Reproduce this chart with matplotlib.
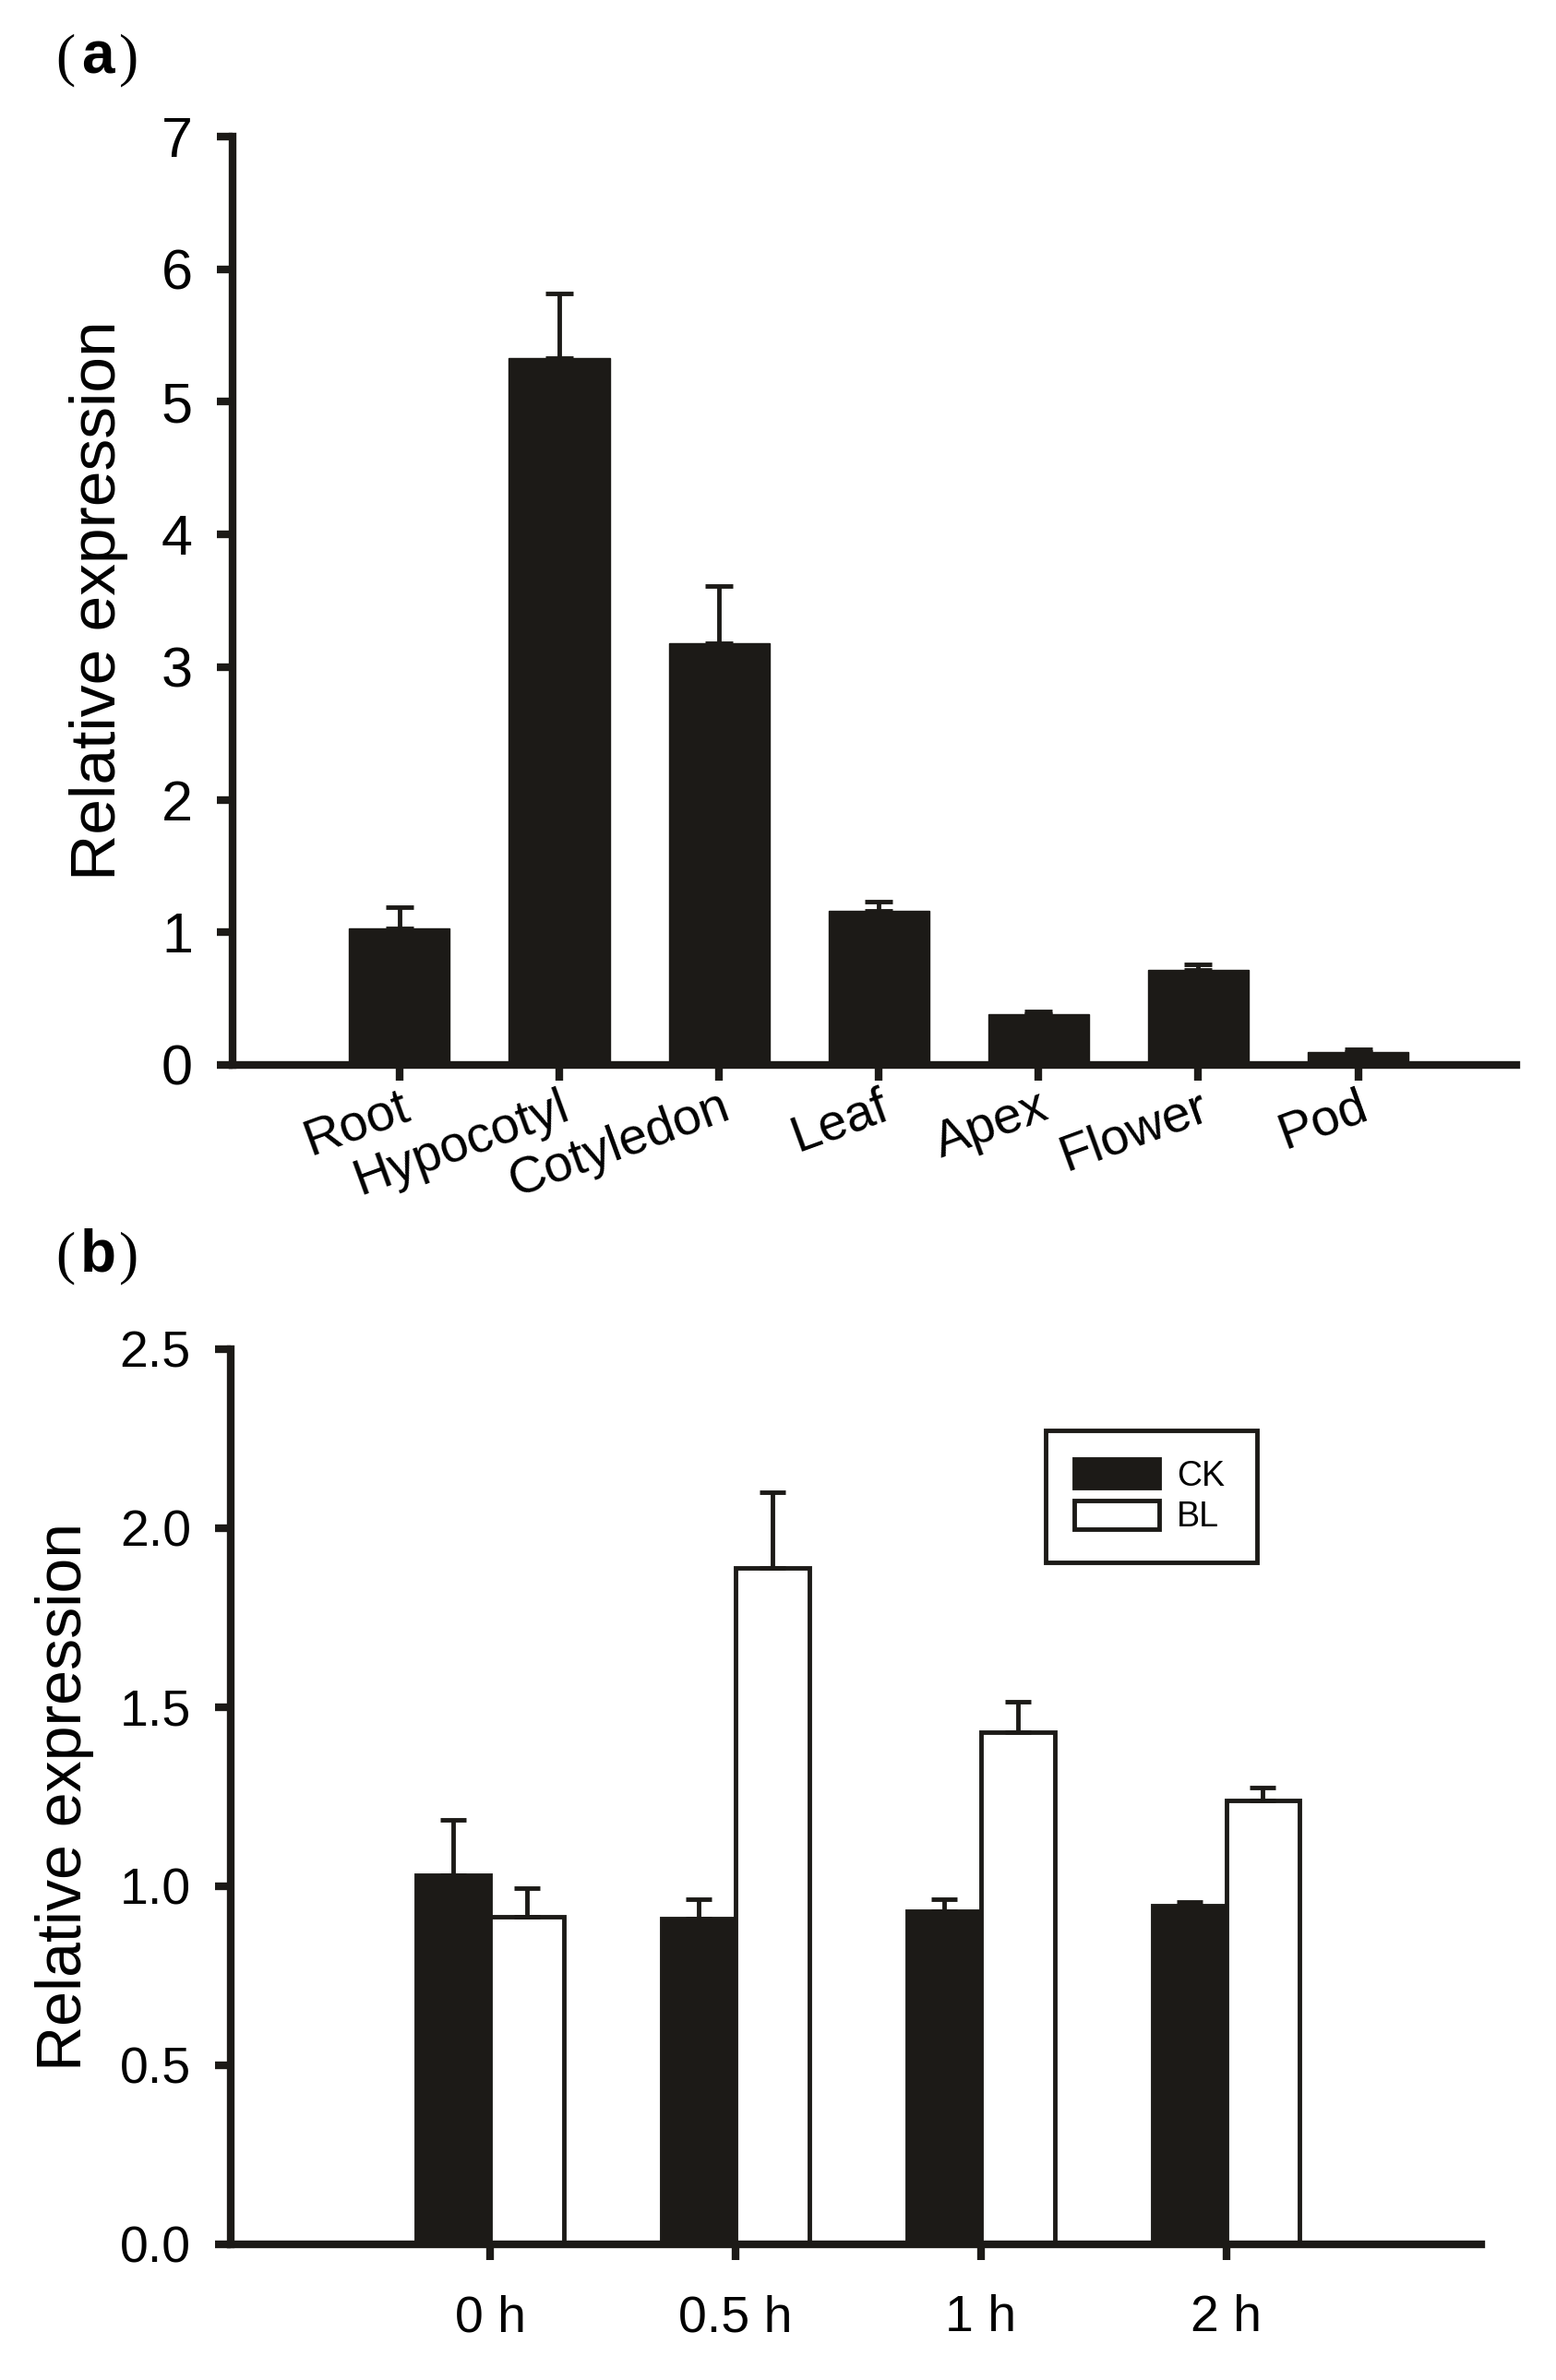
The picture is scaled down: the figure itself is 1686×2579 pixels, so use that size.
import matplotlib.pyplot as plt
import numpy as np
from matplotlib import font_manager

# Dane - panel (a): ekspresja w tkankach
tissues = ['Root', 'Hypocotyl', 'Cotyledon', 'Leaf', 'Apex', 'Flower', 'Pod']
tissue_mean = [1.03, 5.33, 3.18, 1.16, 0.38, 0.72, 0.10]
tissue_err = [0.16, 0.49, 0.43, 0.07, 0.025, 0.035, 0.02]

# Dane - panel (b): CK vs BL w czasie
times = ['0 h', '0.5 h', '1 h', '2 h']
ck_mean = [1.03, 0.91, 0.93, 0.945]
ck_err = [0.155, 0.055, 0.035, 0.012]
bl_mean = [0.915, 1.89, 1.43, 1.24]
bl_err = [0.08, 0.21, 0.085, 0.035]

W, H = 1686, 2579
dark = '#1c1a17'

# waska czcionka jesli jest, inaczej zwykla troche mniejsza
names = {f.name for f in font_manager.fontManager.ttflist}
if 'Liberation Sans Narrow' in names:
    narrow, nsize = 'Liberation Sans Narrow', 44
else:
    narrow, nsize = 'Liberation Sans', 40
plt.rcParams['font.family'] = ['Liberation Sans', 'DejaVu Sans']


def style_axes(ax):
    for s in ['top', 'right']:
        ax.spines[s].set_visible(False)
    for s in ['left', 'bottom']:
        ax.spines[s].set_linewidth(6)
        ax.spines[s].set_color(dark)
        ax.spines[s].set_capstyle('projecting')
    ax.tick_params(direction='out', length=12, width=6, color=dark)


fig = plt.figure(figsize=(W / 100, H / 100), dpi=100)

# ------------- (a) -------------------------------------
ax1 = fig.add_axes([252 / W, 1 - 1154 / H, (1643 - 252) / W, (1154 - 148) / H])
x = np.arange(len(tissues))
ax1.bar(x, tissue_mean, width=0.63, color=dark, edgecolor=dark, linewidth=1, zorder=2)
ax1.errorbar(x, tissue_mean, yerr=[np.zeros(len(x)), tissue_err], fmt='none',
             ecolor=dark, elinewidth=3.5, capsize=11, capthick=3.5, zorder=3)
ax1.set_xlim(-1.045, 6.99)
ax1.set_ylim(0, 7)
ax1.set_yticks(range(8))
ax1.set_xticks(x)
ax1.set_xticklabels(tissues, rotation=20, ha='right', va='top', rotation_mode='anchor',
                    fontsize=40)
style_axes(ax1)
ax1.tick_params(axis='y', labelsize=44, pad=19)
ax1.tick_params(axis='x', pad=2)
ax1.set_ylabel('Relative expression', fontsize=50, va='center')
ax1.yaxis.set_label_coords((107 - 252) / (1643 - 252), 0.5)

# ------------- (b) -------------------------------------
ax2 = fig.add_axes([250 / W, 1 - 2432 / H, (1605 - 250) / W, (2432 - 1462) / H])
g = np.arange(len(times))
bw = 0.3
b1 = ax2.bar(g - bw / 2, ck_mean, width=bw, color=dark, edgecolor=dark, linewidth=3.5,
             label='CK', zorder=2)
b2 = ax2.bar(g + bw / 2, bl_mean, width=bw, color='white', edgecolor=dark, linewidth=3.5,
             label='BL', zorder=2)
ax2.errorbar(g - bw / 2, ck_mean, yerr=[np.zeros(len(g)), ck_err], fmt='none',
             ecolor=dark, elinewidth=3.5, capsize=10, capthick=3.5, zorder=3)
ax2.errorbar(g + bw / 2, bl_mean, yerr=[np.zeros(len(g)), bl_err], fmt='none',
             ecolor=dark, elinewidth=3.5, capsize=10, capthick=3.5, zorder=3)
ax2.set_xlim(-1.058, 4.04)
ax2.set_ylim(0, 2.5)
yt = np.arange(0, 2.51, 0.5)
ax2.set_yticks(yt)
ax2.set_yticklabels(['%.1f' % v for v in yt], family=[narrow, 'DejaVu Sans'])
ax2.set_xticks(g)
ax2.set_xticklabels(times, family=[narrow, 'DejaVu Sans'])
style_axes(ax2)
ax2.tick_params(axis='y', labelsize=nsize, pad=19)
ax2.tick_params(axis='x', labelsize=nsize, pad=27)
ax2.set_ylabel('Relative expression', fontsize=49, va='center')
ax2.yaxis.set_label_coords((70 - 250) / (1605 - 250), 0.5)

leg = ax2.legend(handles=[b1, b2], loc='upper left',
                 bbox_to_anchor=(0.652, 0.755, 0.169, 0.154), mode='expand',
                 borderaxespad=0, fontsize=27, handlelength=2.45, handleheight=0.9,
                 handletextpad=0.5, labelspacing=0.22, borderpad=0.82,
                 fancybox=False, framealpha=1, edgecolor=dark)
leg.get_frame().set_linewidth(3.5)
for t in leg.get_texts():
    t.set_family([narrow, 'DejaVu Sans'])

# ------------- etykiety paneli -------------------------------------
for lab, base in [('a', 80), ('b', 1378)]:
    fig.text(71 / W, 1 - base / H, '(', fontsize=46, family='Liberation Serif',
             ha='center', va='baseline')
    fig.text(106 / W, 1 - base / H, lab, fontsize=46, fontweight='bold',
             ha='center', va='baseline')
    fig.text(140 / W, 1 - base / H, ')', fontsize=46, family='Liberation Serif',
             ha='center', va='baseline')

fig.savefig('out.png', dpi=100, facecolor='white')
